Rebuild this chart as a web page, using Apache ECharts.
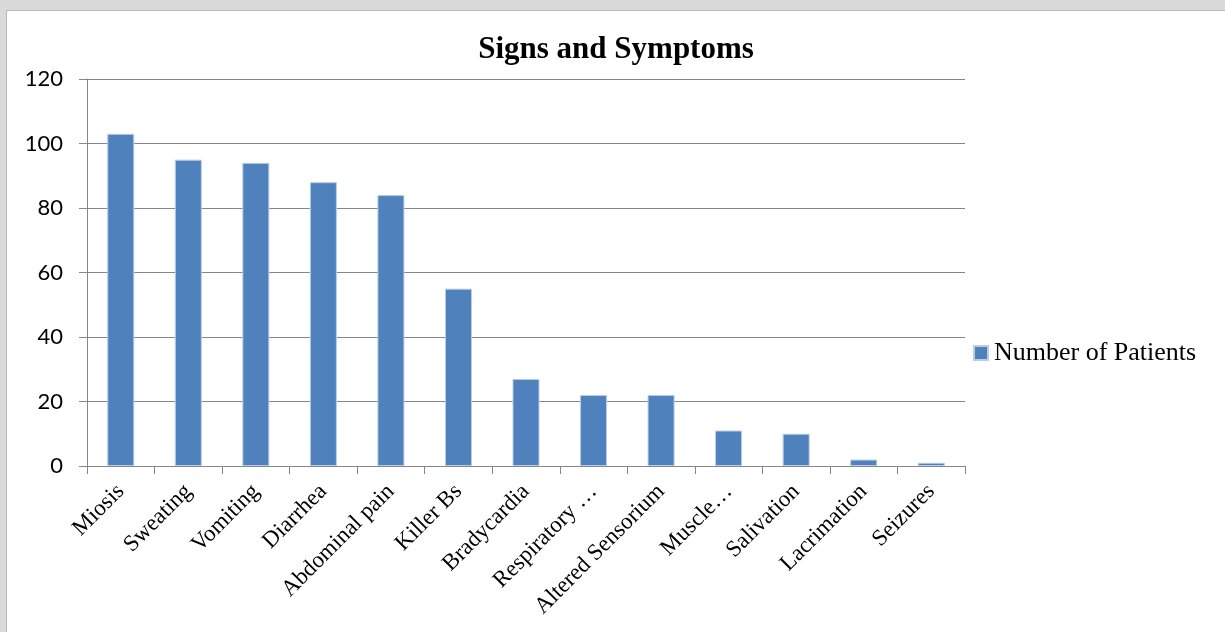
<!DOCTYPE html>
<html>
<head>
<meta charset="utf-8">
<script src="https://cdn.jsdelivr.net/npm/echarts@6/dist/echarts.min.js"></script>
<style>
html,body{margin:0;padding:0;width:1225px;height:632px;background:#dadada;overflow:hidden;}
#frame{position:absolute;left:6px;top:10px;width:1219px;height:622px;background:#fff;border-left:1px solid #b8b8b8;border-top:1px solid #b8b8b8;box-sizing:border-box;}
#chart{position:absolute;left:0;top:0;width:1225px;height:632px;}
</style>
</head>
<body>
<div id="frame"></div>
<div id="chart"></div>
<script>
const categories = ["Miosis","Sweating","Vomiting","Diarrhea","Abdominal pain","Killer Bs","Bradycardia","Respiratory …","Altered Sensorium","Muscle…","Salivation","Lacrimation","Seizures"];
const patients = [103, 95, 94, 88, 84, 55, 27, 22, 22, 11, 10, 2, 1];
const yTicks = [0, 20, 40, 60, 80, 100, 120];
const seriesName = "Number of Patients";
const titleText = "Signs and Symptoms";

const chart = echarts.init(document.getElementById('chart'), null, {renderer:'canvas'});
chart.setOption({
  animation:false,
  backgroundColor:'transparent',
  title:{text:titleText,left:616,textAlign:'center',top:34,padding:0,textStyle:{fontFamily:'Liberation Serif',fontSize:31,fontWeight:'bold',color:'#000'}},
  legend:{left:973,top:340,padding:0,itemWidth:14,itemHeight:14,itemGap:7,icon:'rect',
    textStyle:{fontFamily:'Liberation Serif',fontSize:26,color:'#000',padding:[0,0,0,1]},data:[seriesName]},
  grid:{left:87,right:260,top:79,bottom:166,containLabel:false},
  xAxis:{type:'category',data:categories,
    axisLine:{lineStyle:{color:'#868686',width:1}},
    axisTick:{show:true,alignWithLabel:false,length:8,lineStyle:{color:'#868686'}},
    axisLabel:{interval:0,rotate:45,margin:22,fontFamily:'Liberation Serif',fontSize:23,color:'#000'}},
  yAxis:{type:'value',min:yTicks[0],max:yTicks[yTicks.length-1],interval:20,
    axisLine:{show:true,lineStyle:{color:'#868686'}},
    axisTick:{show:true,length:8,lineStyle:{color:'#868686'}},
    axisLabel:{margin:24,fontFamily:'Lato',fontSize:22,color:'#000'},
    splitLine:{lineStyle:{color:'#868686',width:1}}},
  series:[{name:seriesName,type:'bar',data:patients,barWidth:'40%',
    itemStyle:{color:'#4f81bd',borderColor:'#b9cde5',borderWidth:1}}]
});
</script>
</body>
</html>
